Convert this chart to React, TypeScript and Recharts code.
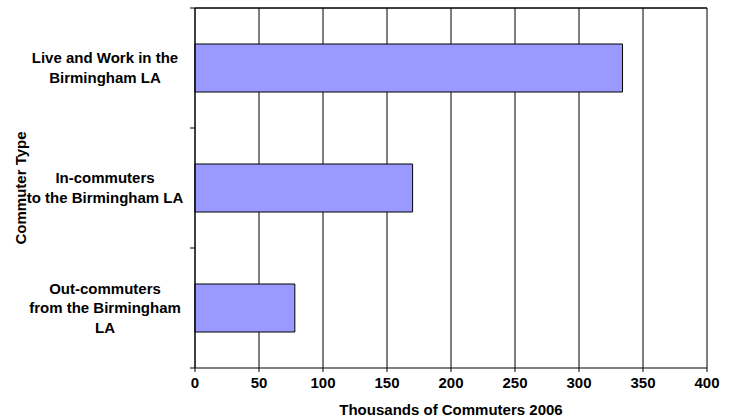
import * as R from "recharts";
import { BarChart, Bar, XAxis, YAxis, CartesianGrid } from "recharts";

const CATEGORIES = [
  "Live and Work in the\nBirmingham LA",
  "In-commuters\nto the Birmingham LA",
  "Out-commuters\nfrom the Birmingham\nLA",
];
const COMMUTERS = [334, 170, 78]; // thousands, 2006
const X_TICKS = [0, 50, 100, 150, 200, 250, 300, 350, 400];

const FONT = "'Liberation Sans', Arial, sans-serif";
const CHART_W = 733;
const CHART_H = 417;
const MARGIN = { top: 8, right: 26, bottom: 0, left: 0 };

const data = CATEGORIES.map((name, i) => ({ name, value: COMMUTERS[i] }));

// multi-line category label, centred in the left gutter,
// plus the small outward tick marks at the band edges (and the top frame line)
function CategoryTick(props: any) {
  const { x, y, payload } = props;
  const half = payload.offset ?? 0;
  const lines: string[] = String(payload.value).split("\n");
  const lineH = 19.6;
  const first = -((lines.length - 1) * lineH) / 2;
  const isFirst = payload.value === CATEGORIES[0];
  const isLast = payload.value === CATEGORIES[CATEGORIES.length - 1];
  const plotRight = CHART_W - MARGIN.right;
  return (
    <g>
      <line
        x1={x - 5}
        x2={isFirst ? plotRight : x}
        y1={y - half}
        y2={y - half}
        stroke="#000"
        strokeWidth={1}
      />
      {isLast && (
        <line x1={x - 5} x2={x} y1={y + half} y2={y + half} stroke="#000" />
      )}
      <text
        x={105}
        y={y}
        textAnchor="middle"
        fontFamily={FONT}
        fontWeight="bold"
        fontSize={15}
        fill="#000"
      >
        {lines.map((l, i) => (
          <tspan key={i} x={105} y={y + first + i * lineH} dy="0.35em">
            {l}
          </tspan>
        ))}
      </text>
    </g>
  );
}

// top edge of the plot frame, from the chart's own plot area when available
const usePlotArea: any = (R as any).usePlotArea;
function TopFrame() {
  if (!usePlotArea) return null;
  const area = usePlotArea();
  if (!area) return null;
  return (
    <line
      x1={area.x}
      x2={area.x + area.width}
      y1={area.y}
      y2={area.y}
      stroke="#000"
      strokeWidth={1}
    />
  );
}

function YTitle(props: any) {
  const { viewBox } = props;
  const cx = viewBox.x + 20;
  const cy = viewBox.y + viewBox.height / 2;
  return (
    <text
      x={cx}
      y={cy}
      transform={`rotate(-90, ${cx}, ${cy})`}
      textAnchor="middle"
      dominantBaseline="central"
      fontFamily={FONT}
      fontWeight="bold"
      fontSize={15}
      fill="#000"
    >
      Commuter Type
    </text>
  );
}

export default function App() {
  return (
    <div style={{ position: "absolute", left: 0, top: 0, background: "#fff" }}>
      <BarChart
        width={CHART_W}
        height={CHART_H}
        data={data}
        layout="vertical"
        barCategoryGap="30%"
        margin={MARGIN}
      >
        <CartesianGrid stroke="#000" horizontal={false} />
        <XAxis
          type="number"
          domain={[0, 400]}
          ticks={X_TICKS}
          interval={0}
          height={49}
          stroke="#000"
          tickSize={4}
          tickMargin={5}
          tick={{ fill: "#000", fontFamily: FONT, fontWeight: "bold", fontSize: 15 }}
          label={{
            value: "Thousands of Commuters 2006",
            position: "insideBottom",
            offset: 2,
            fill: "#000",
            fontFamily: FONT,
            fontWeight: "bold",
            fontSize: 15,
          }}
        />
        <YAxis
          type="category"
          dataKey="name"
          width={195}
          stroke="#000"
          tickLine={false}
          tickSize={0}
          tickMargin={0}
          tick={<CategoryTick />}
          interval={0}
          label={<YTitle />}
        />
        <Bar
          dataKey="value"
          fill="#9999FF"
          stroke="#000"
          strokeWidth={1}
          isAnimationActive={false}
        />
        <TopFrame />
      </BarChart>
    </div>
  );
}
